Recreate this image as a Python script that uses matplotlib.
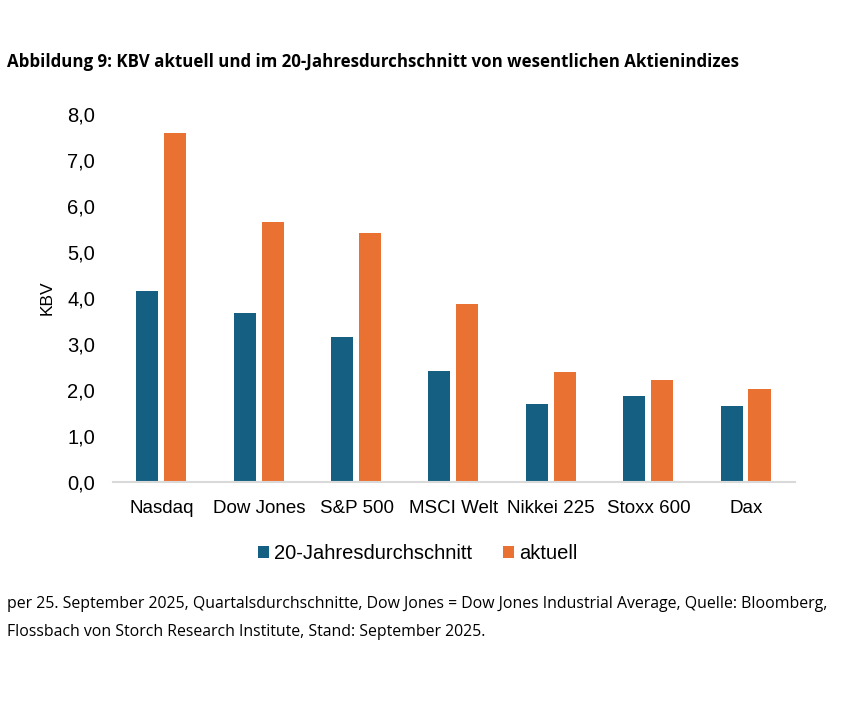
from matplotlib import pyplot as plt
import numpy as np

kategorien = ['Nasdaq', 'Dow Jones', 'S&P 500', 'MSCI Welt', 'Nikkei 225', 'Stoxx 600', 'Dax']
durchschnitt_20j = [4.15, 3.67, 3.15, 2.41, 1.70, 1.87, 1.65]
aktuell = [7.59, 5.65, 5.41, 3.87, 2.39, 2.22, 2.02]
y_ticks = [0, 1, 2, 3, 4, 5, 6, 7, 8]

blau = '#156082'
orange = '#E97132'

fig = plt.figure(figsize=(8.5, 7.01), dpi=100)
ax = fig.add_axes([0.133, 0.3124, 0.802, 0.525])

x = np.arange(len(kategorien))
ax.bar(x - 0.148, durchschnitt_20j, width=0.226, color=blau, label='20-Jahresdurchschnitt')
ax.bar(x + 0.138, aktuell, width=0.226, color=orange, label='aktuell')

ax.set_xlim(-0.5, len(kategorien) - 0.5)
ax.set_ylim(0, 8)
ax.set_yticks(y_ticks)
ax.set_yticklabels([f'{v:.1f}'.replace('.', ',') for v in y_ticks],
                   fontsize=14.5, family='Liberation Sans')
ax.set_xticks(x)
ax.set_xticklabels(kategorien, fontsize=13.5, family='Liberation Sans')
ax.tick_params(length=0, pad=13)
ax.tick_params(axis='y', pad=13)
ax.set_ylabel('KBV', fontsize=12.5, family='Liberation Sans', labelpad=9)

for s in ['top', 'right', 'left']:
    ax.spines[s].set_visible(False)
ax.spines['bottom'].set_color('#d9d9d9')
ax.spines['bottom'].set_linewidth(1.5)

ax.legend(loc='center', bbox_to_anchor=(0.447, -0.195), ncol=2, frameon=False,
          prop={'family': 'Liberation Sans', 'size': 14.5},
          handlelength=0.55, handleheight=0.55, handletextpad=0.25, columnspacing=1.5)

fig.text(0.008, 0.912, 'Abbildung 9: KBV aktuell und im 20-Jahresdurchschnitt von wesentlichen Aktienindizes',
         fontsize=12.2, fontweight='bold', family='Open Sans', va='center')
fig.text(0.008, 0.138, 'per 25. September 2025, Quartalsdurchschnitte, Dow Jones = Dow Jones Industrial Average, Quelle: Bloomberg,',
         fontsize=11.4, family='Open Sans', va='center')
fig.text(0.008, 0.099, 'Flossbach von Storch Research Institute, Stand: September 2025.',
         fontsize=11.4, family='Open Sans', va='center')

fig.savefig('out.png', dpi=100, facecolor='white')
